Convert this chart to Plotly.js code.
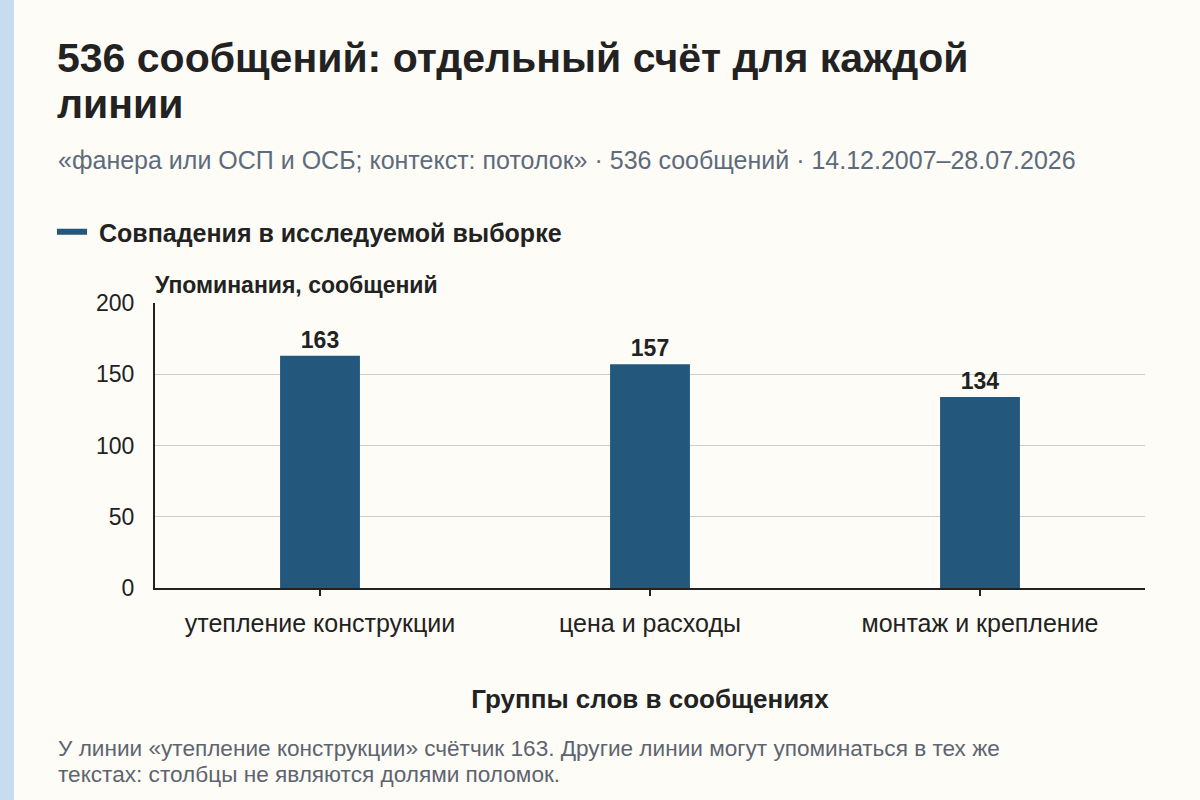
<!DOCTYPE html>
<html>
<head>
<meta charset="utf-8">
<script src="https://cdn.plot.ly/plotly-3.0.1.min.js"></script>
<style>
  html, body { margin: 0; padding: 0; background: #fdfcf6; }
  #chart { width: 1200px; height: 800px; }
</style>
</head>
<body>
<div id="chart"></div>
<script>
// data
const categories = ["утепление конструкции", "цена и расходы", "монтаж и крепление"];
const counts = [163, 157, 134];
const yTicks = [0, 50, 100, 150, 200];

const seriesName = "Совпадения в исследуемой выборке";
const titleLines = ["536 сообщений: отдельный счёт для каждой", "линии"];
const subtitleText = "«фанера или ОСП и ОСБ; контекст: потолок» · 536 сообщений · 14.12.2007–28.07.2026";
const noteLines = [
    "У линии «утепление конструкции» счётчик 163. Другие линии могут упоминаться в тех же",
    "текстах: столбцы не являются долями поломок."
];

const FONT = "Liberation Sans, Arial, Helvetica, sans-serif";
const BAR = "#24577c";

// plot area in pixels, used to place things outside it
const L = 155, R = 1145, T = 303, B = 588;
const px = x => (x - L) / (R - L);
const py = y => (B - y) / (B - T);

const bars = {
    type: "bar",
    x: categories,
    y: counts,
    width: 0.242,
    marker: { color: BAR },
    text: counts.map(String),
    textposition: "outside",
    cliponaxis: false,
    textfont: { family: FONT, size: 23, color: "#222", weight: "bold" },
    hoverinfo: "x+y",
    showlegend: false
};

// legend entry drawn as a line, like the reference
const legendLine = {
    type: "scatter",
    mode: "lines",
    x: [null],
    y: [null],
    name: " " + seriesName,
    line: { color: BAR, width: 6 },
    showlegend: true
};

// text block helper
function note(text, x, y, size, color, bold) {
    return {
        text: text,
        xref: "paper", yref: "paper",
        x: px(x), y: py(y),
        xanchor: "left", yanchor: "middle",
        align: "left",
        showarrow: false,
        font: { family: FONT, size: size, color: color, weight: bold ? "bold" : "normal" }
    };
}

const layout = {
    width: 1200,
    height: 800,
    paper_bgcolor: "#fdfcf6",
    plot_bgcolor: "#fdfcf6",
    margin: { l: L, r: 1200 - R, t: T, b: 800 - B },
    font: { family: FONT, color: "#222" },
    showlegend: true,
    legend: {
        orientation: "h",
        xref: "container", yref: "container",
        x: 52 / 1200, xanchor: "left",
        y: 1 - 232 / 800, yanchor: "middle",
        font: { family: FONT, size: 25, color: "#222", weight: "bold" },
        bgcolor: "rgba(0,0,0,0)"
    },
    xaxis: {
        type: "category",
        showline: true,
        linecolor: "#222",
        linewidth: 2,
        ticks: "outside",
        ticklen: 6,
        tickwidth: 2,
        tickcolor: "#222",
        tickfont: { family: FONT, size: 25, color: "#222" },
        ticklabelstandoff: 6,
        showgrid: false,
        title: {
            text: "Группы слов в сообщениях",
            font: { family: FONT, size: 26, color: "#222", weight: "bold" },
            standoff: 54
        }
    },
    yaxis: {
        range: [0, 200],
        tickvals: yTicks,
        showline: true,
        linecolor: "#222",
        linewidth: 2,
        ticks: "",
        gridcolor: "#cfcdc6",
        gridwidth: 1,
        zeroline: false,
        tickfont: { family: FONT, size: 23, color: "#222" },
        ticklabelstandoff: 14
    },
    shapes: [
        {
            type: "rect", layer: "below",
            xref: "paper", yref: "paper",
            x0: px(0), x1: px(14), y0: py(800), y1: py(0),
            fillcolor: "#c7ddee", line: { width: 0 }
        }
    ],
    annotations: [
        note(titleLines[0], 55, 58, 41, "#222", true),
        note(titleLines[1], 55, 104, 41, "#222", true),
        note(subtitleText, 56, 160, 25, "#5d6b7c", false),
        note("Упоминания, сообщений", 153, 285, 23, "#222", true),
        note(noteLines[0], 56, 748, 22.6, "#5d6470", false),
        note(noteLines[1], 56, 774, 22.6, "#5d6470", false)
    ]
};

Plotly.newPlot("chart", [bars, legendLine], layout, { displayModeBar: false, staticPlot: true });
</script>
</body>
</html>
